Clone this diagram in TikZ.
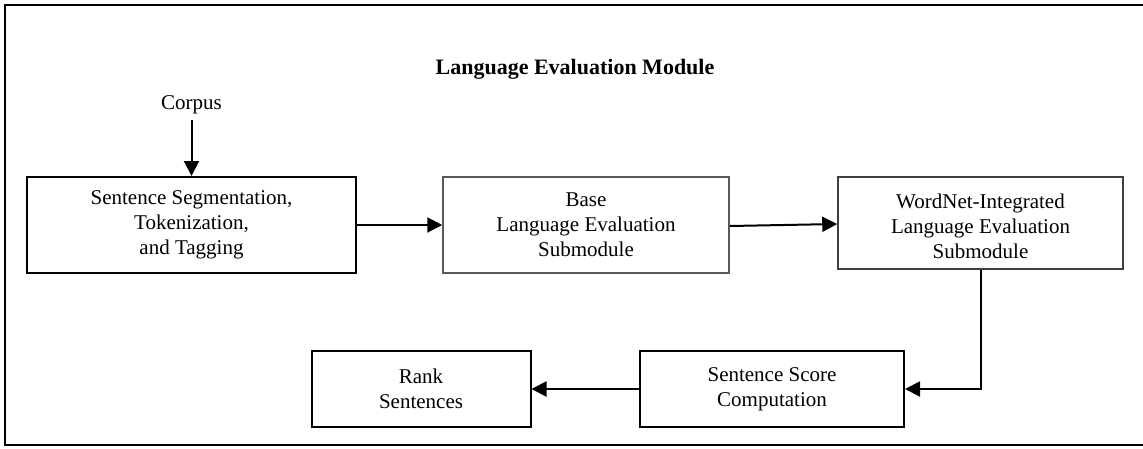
\documentclass[tikz,border=0pt]{standalone}
\usepackage{fontspec}
\setmainfont{Liberation Serif}
\usetikzlibrary{arrows.meta}
\begin{document}
\begin{tikzpicture}[x=1pt,y=-1pt,
  txt/.style={font=\fontsize{21}{25}\selectfont, align=center, inner sep=0pt},
  boxthick/.style={draw=black, line width=2pt, inner sep=0pt, font=\fontsize{21}{25}\selectfont, align=center},
  boxthin/.style={draw=black!65, line width=1.5pt, inner sep=0pt, font=\fontsize{21}{25}\selectfont, align=center},
  arr/.style={line width=2pt, -{Triangle[width=15pt,length=15pt]}}]
\useasboundingbox (0,0) rectangle (1143,448);
\clip (0,0) rectangle (1143,448);
\draw[line width=2.5pt] (5,5) rectangle (1160,445);
\node[font=\fontsize{22}{26}\selectfont\bfseries, inner sep=0pt, anchor=base] (title) at (575,74) {Language Evaluation Module};
\node[txt, anchor=base] (corpus) at (191.5,109) {Corpus};
\node[boxthick, minimum width=329pt, minimum height=96pt] (b1) at (191.5,225) {Sentence Segmentation,\\Tokenization,\\and Tagging};
\node[boxthin, minimum width=286pt, minimum height=96pt] (b2) at (586,225) {Base\\Language Evaluation\\Submodule};
\node[boxthin, draw=black!75, minimum width=285pt, minimum height=92pt] (b3) at (980.5,223) {};
\node[txt] (b3t) at (980.5,226) {WordNet-Integrated\\Language Evaluation\\Submodule};
\node[boxthick, minimum width=264pt, minimum height=76pt] (score) at (772,389) {Sentence Score\\Computation};
\node[boxthick, minimum width=219pt, minimum height=76pt] (rank) at (421,389) {Rank\\Sentences};
\draw[arr] (191.5,120) -- (b1.north);
\draw[arr] (b1.east) -- (b2.west);
\draw[arr] ([yshift=-1pt]b2.east) -- ([yshift=-1pt]b3.west);
\draw[arr] (b3.south -| 981,0) |- (score.east);
\draw[arr] (score.west) -- (rank.east);
\end{tikzpicture}
\end{document}
